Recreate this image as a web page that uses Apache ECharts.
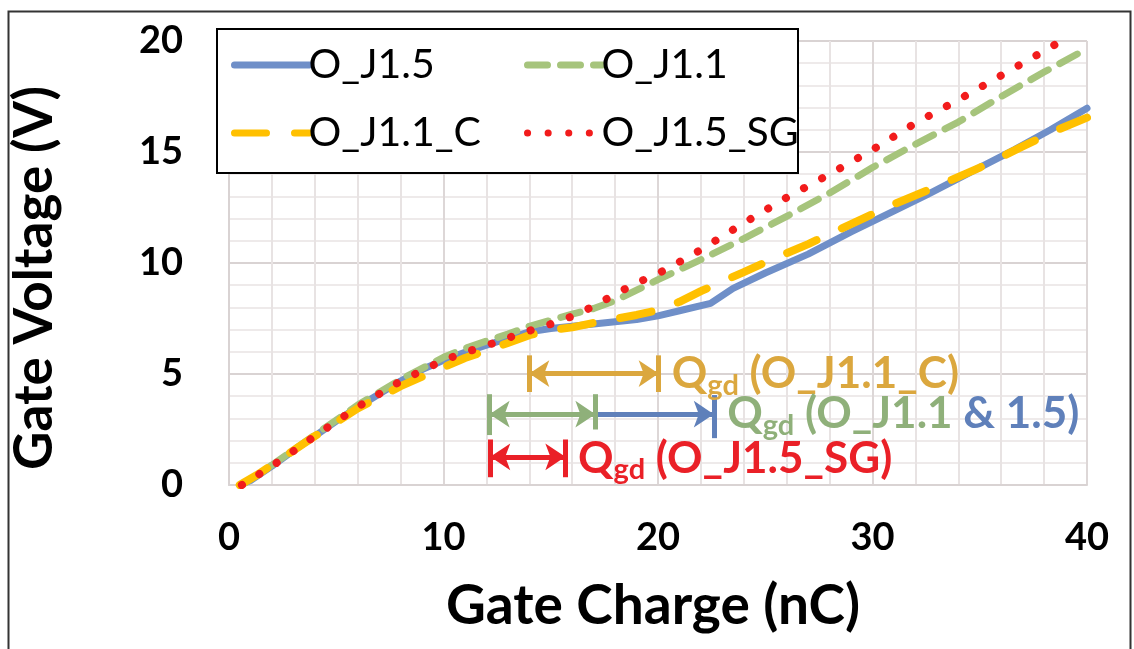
<!DOCTYPE html>
<html><head><meta charset="utf-8">
<script src="https://cdn.jsdelivr.net/npm/echarts@6/dist/echarts.min.js"></script>
<style>html,body{margin:0;padding:0;background:#fff}#c{width:1134px;height:649px}</style>
</head><body><div id="c"></div>
<script>
// ---- data (Gate charge nC, Gate voltage V) ----
const seriesNames = ['O_J1.5', 'O_J1.1', 'O_J1.1_C', 'O_J1.5_SG'];

const xJ15 = [0.5, 1, 2, 3, 4, 5, 6, 7, 8, 9, 10, 11, 12, 13, 14, 15, 16, 17, 18, 19, 20, 21, 22.45, 23.5, 25, 27, 29, 30.7, 32.6, 34.4, 36.6, 38.3, 40];
const yJ15 = [0, 0.2, 0.85, 1.55, 2.2, 2.88, 3.5, 4.1, 4.68, 5.2, 5.62, 5.98, 6.3, 6.6, 6.9, 7.05, 7.15, 7.25, 7.35, 7.45, 7.62, 7.85, 8.18, 8.86, 9.55, 10.4, 11.4, 12.2, 13.1, 14.0, 15.1, 16.0, 16.97];

const xJ11 = [0.6, 2, 4, 6, 8, 10, 11, 12, 13, 14, 15, 16, 17, 18, 19, 20, 21, 22, 24, 26, 28, 30, 32, 34, 36, 38, 40];
const yJ11 = [0, 0.9, 2.25, 3.6, 4.75, 5.75, 6.15, 6.48, 6.8, 7.15, 7.42, 7.7, 7.95, 8.3, 8.78, 9.25, 9.7, 10.15, 11.1, 12.1, 13.15, 14.3, 15.35, 16.35, 17.5, 18.6, 19.65];

const xJ11C = [0.5, 1.3, 2, 4, 6, 8, 10, 11, 12, 13, 14, 15, 16, 17, 18, 19, 20, 21, 22, 23, 24, 25, 27, 29, 31, 33, 35, 37, 38.5, 40];
const yJ11C = [0, 0.45, 0.9, 2.2, 3.45, 4.45, 5.3, 5.72, 6.05, 6.4, 6.75, 6.98, 7.1, 7.3, 7.48, 7.66, 7.88, 8.25, 8.73, 9.17, 9.59, 10.03, 10.85, 11.75, 12.65, 13.45, 14.3, 15.25, 15.95, 16.55];

const xJ15SG = [0.6, 2, 4, 6, 8, 10, 11, 12, 13, 14, 15, 16, 17, 18, 19, 20, 21, 22, 24, 26, 28, 30, 32, 34, 36, 38, 38.8];
const yJ15SG = [0, 0.85, 2.2, 3.52, 4.68, 5.62, 5.97, 6.28, 6.62, 6.95, 7.25, 7.6, 8.05, 8.6, 9.1, 9.52, 10.05, 10.6, 11.8, 12.95, 14.0, 15.1, 16.3, 17.35, 18.45, 19.55, 20];

// Qgd annotation spans [start, end, level] in data units
const qgdC = [14.0, 20.03, 5.02];
const qgdJ11 = [12.15, 17.08, 3.19];
const qgdJ15 = [17.08, 22.6, 3.19];
const qgdSG = [12.18, 15.68, 1.27];
// annotation text anchors [x, y]
const txtC = [20.62, 5.0];
const txtJ11 = [23.2, 3.2];
const txtSG = [16.25, 1.2];

const xTicks = [0, 10, 20, 30, 40];
const yTicks = [0, 5, 10, 15, 20];

// ---- build ----
const zip = (xs, ys) => xs.map((v, i) => [v, ys[i]]);
const C = { blue: '#6F8FC8', green: '#A6C47C', orange: '#FFC000', red: '#F21C1C',
  tOrange: '#DBA73E', tGreen: '#8FB07A', tBlue: '#5F80BA', tRed: '#EA2027' };
const FONT = 'Lato, "Open Sans", sans-serif';

function arrow(a, color, s0, s1) {
  return [{ coord: [a[0], a[2]], symbol: s0, lineStyle: { color, width: 5, type: 'solid' } },
          { coord: [a[1], a[2]], symbol: s1 }];
}
function tick(x, y1, y2, color) {
  return [{ coord: [x, y1], symbol: 'none', lineStyle: { color, width: 5, type: 'solid' } },
          { coord: [x, y2], symbol: 'none' }];
}
function richFor(color) {
  return {
    q: { fontFamily: FONT, fontWeight: 'bold', fontSize: 44, lineHeight: 52, color },
    s: { fontFamily: FONT, fontWeight: 'bold', fontSize: 29, lineHeight: 36, verticalAlign: 'bottom', color },
    t: { fontFamily: FONT, fontWeight: 'bold', fontSize: 44, lineHeight: 52, color },
    b: { fontFamily: FONT, fontWeight: 'bold', fontSize: 44, lineHeight: 52, color: C.tBlue }
  };
}
function textPoint(pos, fmt, color) {
  return { coord: pos, symbol: 'circle', symbolSize: 1, itemStyle: { color: 'rgba(0,0,0,0)' },
    label: { show: true, position: 'right', distance: 0, formatter: fmt, rich: richFor(color) } };
}

const lineSeries = (name, data, color, width, type) => ({
  name, type: 'line', data, showSymbol: false, symbol: 'none', smooth: false, z: 3,
  lineStyle: { color, width, type, cap: 'round', join: 'round' }, itemStyle: { color },
  emphasis: { disabled: true }, animation: false
});

const legendBase = {
  orient: 'vertical', top: 36, z: 10,
  itemWidth: 75, itemHeight: 14, itemGap: 20, selectedMode: false,
  itemStyle: { color: 'rgba(0,0,0,0)', borderWidth: 0, opacity: 0 },
  lineStyle: { width: 7, cap: 'round' },
  textStyle: { fontFamily: FONT, fontSize: 41, color: '#000', lineHeight: 48, padding: [0, 0, 0, -6] }
};

const chart = echarts.init(document.getElementById('c'), null, { renderer: 'canvas' });
chart.setOption({
  backgroundColor: '#fff',
  animation: false,
  grid: { left: 229, right: 47, top: 41, bottom: 164, containLabel: false },
  xAxis: {
    type: 'value', min: 0, max: 40, interval: 10,
    name: 'Gate Charge (nC)', nameLocation: 'middle', nameGap: 94,
    nameTextStyle: { fontFamily: FONT, fontWeight: 'bold', fontSize: 55, color: '#000', padding: [0, 10, 0, 0] },
    axisLine: { show: true, lineStyle: { color: '#D9D3D3', width: 2 } },
    axisTick: { show: false },
    axisLabel: { fontFamily: FONT, fontWeight: 'bold', fontSize: 38, color: '#000', margin: 34,
      formatter: v => xTicks.includes(v) ? String(v) : '' },
    splitLine: { show: true, lineStyle: { color: '#DDD7D7', width: 2 } },
    minorTick: { show: false, splitNumber: 5 },
    minorSplitLine: { show: true, lineStyle: { color: '#E8E3E3', width: 2 } }
  },
  yAxis: {
    type: 'value', min: 0, max: 20, interval: 5,
    name: 'Gate Voltage (V)', nameLocation: 'middle', nameGap: 168,
    nameTextStyle: { fontFamily: FONT, fontWeight: 'bold', fontSize: 53, color: '#000', padding: [0, 30, 0, 0] },
    axisLine: { show: true, lineStyle: { color: '#D9D3D3', width: 2 } },
    axisTick: { show: false },
    axisLabel: { fontFamily: FONT, fontWeight: 'bold', fontSize: 38, color: '#000', margin: 46,
      formatter: v => yTicks.includes(v) ? String(v) : '' },
    splitLine: { show: true, lineStyle: { color: '#D9D3D3', width: 2 } },
    minorTick: { show: false, splitNumber: 5 },
    minorSplitLine: { show: true, lineStyle: { color: '#EEEAEA', width: 2 } }
  },
  legend: [
    Object.assign({}, legendBase, { data: [seriesNames[0], seriesNames[2]], left: 226 }),
    Object.assign({}, legendBase, { data: [seriesNames[1], seriesNames[3]], left: 519 })
  ],
  graphic: [
    { type: 'rect', left: 6, top: 9, z: 0, silent: true,
      shape: { width: 1122, height: 700 }, style: { fill: 'none', stroke: '#333', lineWidth: 2 } },
    { type: 'rect', left: 216, top: 28, z: 6, silent: true,
      shape: { width: 581, height: 144 }, style: { fill: '#fff', stroke: '#000', lineWidth: 2 } }
  ],
  series: [
    lineSeries(seriesNames[0], zip(xJ15, yJ15), C.blue, 7, 'solid'),
    lineSeries(seriesNames[1], zip(xJ11, yJ11), C.green, 7, [20, 13]),
    lineSeries(seriesNames[2], zip(xJ11C, yJ11C), C.orange, 8, [32, 28]),
    lineSeries(seriesNames[3], zip(xJ15SG, yJ15SG), C.red, 8, [0.1, 20.5]),
    {
      name: 'annotations', type: 'line', data: [], z: 4, silent: true,
      markLine: {
        silent: true, animation: false, label: { show: false }, symbolSize: [20, 20],
        emphasis: { disabled: true },
        data: [
          arrow(qgdC, C.tOrange, 'arrow', 'arrow'),
          tick(qgdC[0], 4.19, 5.84, C.tOrange), tick(qgdC[1], 4.19, 5.84, C.tOrange),
          arrow(qgdJ11, C.tGreen, 'arrow', 'arrow'),
          arrow(qgdJ15, C.tBlue, 'none', 'arrow'),
          tick(qgdJ11[0], 2.25, 4.09, C.tGreen), tick(qgdJ11[1], 2.5, 4.09, C.tGreen),
          tick(qgdJ15[1], 2.11, 4.05, C.tBlue),
          arrow(qgdSG, C.tRed, 'arrow', 'arrow'),
          tick(qgdSG[0], 0.35, 2.05, C.tRed), tick(qgdSG[1], 0.35, 2.05, C.tRed)
        ]
      },
      markPoint: {
        silent: true, animation: false,
        data: [
          textPoint(txtC, '{q|Q}{s|gd}{t| (O_J1.1_C)}', C.tOrange),
          textPoint(txtJ11, '{q|Q}{s|gd}{t| (O_J1.1}{b| & 1.5)}', C.tGreen),
          textPoint(txtSG, '{q|Q}{s|gd}{t| (O_J1.5_SG)}', C.tRed)
        ]
      }
    }
  ]
});
</script></body></html>
